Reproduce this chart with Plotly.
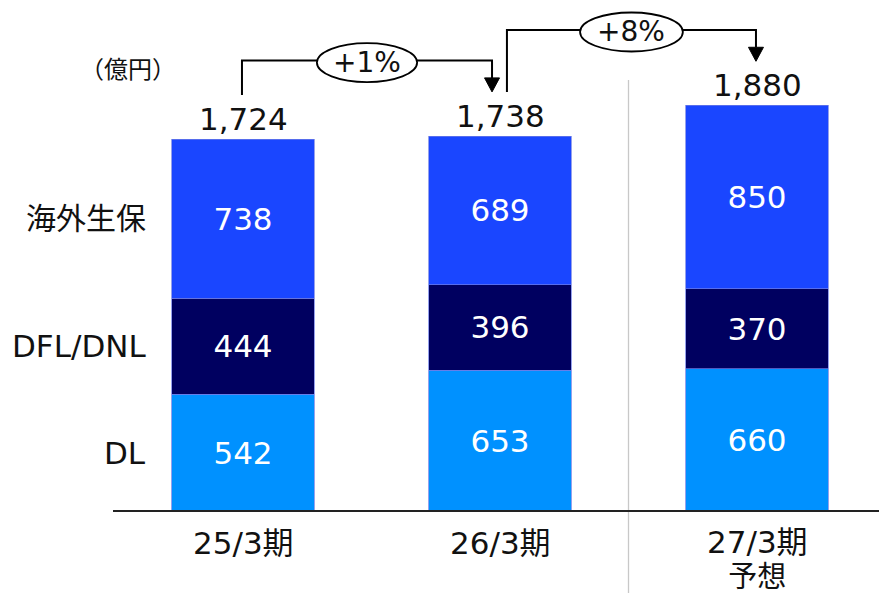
import plotly.graph_objects as go

categories = ["25/3期", "26/3期", "27/3期<br>予想"]
dl = [542, 653, 660]
dfl_dnl = [444, 396, 370]
kaigai = [738, 689, 850]
totals = [1724, 1738, 1880]
growth_labels = ["+1%", "+8%"]
series_names = ["DL", "DFL/DNL", "海外生保"]
colors = ["#0091FF", "#000060", "#1A46FF"]

FONT = "DejaVu Sans, Noto Sans CJK JP"
CJK = "Noto Sans CJK JP"
W, H = 879, 593
x_px_per_unit = 257.0
y_px_per_unit = 0.2157
base_px = 511
x0_px = 243
x_range = [-x0_px / x_px_per_unit, (W - x0_px) / x_px_per_unit]
y_range = [-(H - base_px) / y_px_per_unit, base_px / y_px_per_unit]

fig = go.Figure()
for name, vals, col in zip(series_names, [dl, dfl_dnl, kaigai], colors):
    fig.add_trace(go.Bar(
        x=list(range(len(categories))), y=vals, name=name,
        marker=dict(color=col, line=dict(color="rgba(110,125,230,0.9)", width=0.8)),
        width=0.553,
        text=[str(v) for v in vals], textposition="inside", insidetextanchor="middle",
        textfont=dict(color="white", size=31, family=FONT),
        hoverinfo="skip",
    ))

annotations = []
shapes = []
# totals above bars
for i, t in enumerate(totals):
    annotations.append(dict(x=i, y=t, xref="x", yref="y", text=f"{t:,}", showarrow=False,
                            yanchor="bottom", yshift=0, font=dict(size=31, color="#111", family=FONT)))
# category labels
for i, c in enumerate(categories):
    lines = c.split("<br>")
    if len(lines) == 1:
        annotations.append(dict(x=i, y=0, xref="x", yref="y", text=c, showarrow=False,
                                yanchor="middle", yshift=-32,
                                font=dict(size=31, color="#111", family=FONT)))
    else:
        txt = (f"<span style='font-size:31px'>{lines[0]}</span><br>"
               f"<span style='font-size:29px'>{lines[1]}</span>")
        annotations.append(dict(x=i, y=0, xref="x", yref="y", text=txt, showarrow=False,
                                yanchor="middle", yshift=-48,
                                font=dict(size=26, color="#111", family=FONT)))
# series labels (left), aligned with first bar segments
cum = 0
for name, vals in zip(series_names, [dl, dfl_dnl, kaigai]):
    mid = cum + vals[0] / 2
    cum += vals[0]
    annotations.append(dict(x=(148 - x0_px) / x_px_per_unit, y=mid, xref="x", yref="y", text=name,
                            showarrow=False, xanchor="right",
                            font=dict(size=31 if name.isascii() else 30, color="#111", family=FONT)))
# unit
annotations.append(dict(x=128 / W, y=1 - 68 / H, xref="paper", yref="paper", text="（億円）",
                        xanchor="center", yanchor="middle",
                        showarrow=False, font=dict(size=24, color="#111", family=CJK)))

# growth brackets
off = 205
rise = 350
bracket_x = [(-0.004, 0.969), (1.027, 1.996)]
ell_w = [0.39, 0.40]
for k, (xa, xb) in enumerate(bracket_x):
    a, b = k, k + 1
    ya = totals[a] + off
    yb = totals[b] + off
    ytop = max(totals[a], totals[b]) + rise
    head_h = 14 / y_px_per_unit
    head_w = 7.5 / x_px_per_unit
    shapes.append(dict(type="path", xref="x", yref="y",
                       path=f"M {xa} {ya} L {xa} {ytop} L {xb} {ytop} L {xb} {yb + head_h}",
                       line=dict(color="black", width=2)))
    shapes.append(dict(type="path", xref="x", yref="y",
                       path=f"M {xb - head_w} {yb + head_h} L {xb + head_w} {yb + head_h} L {xb} {yb} Z",
                       fillcolor="black", line=dict(color="black", width=1)))
    xc = (xa + xb) / 2
    ew = ell_w[k] / 2
    eh = 19.5 / y_px_per_unit
    yc = ytop - 2 / y_px_per_unit
    shapes.append(dict(type="circle", xref="x", yref="y",
                       x0=xc - ew, x1=xc + ew, y0=yc - eh, y1=yc + eh,
                       fillcolor="white", line=dict(color="black", width=1.8)))
    annotations.append(dict(x=xc, y=yc, xref="x", yref="y", text=growth_labels[k],
                            showarrow=False, yanchor="middle",
                            font=dict(size=28, color="#111", family=FONT)))

# divider
shapes.append(dict(type="line", xref="x", yref="paper", x0=1.5, x1=1.5, y0=0, y1=1 - 80 / H,
                   line=dict(color="#c8c8c8", width=1.3)))
# baseline
shapes.append(dict(type="line", xref="paper", yref="y", x0=113 / W, x1=1, y0=0, y1=0,
                   line=dict(color="#222", width=2)))

fig.update_layout(
    barmode="stack", width=W, height=H, margin=dict(l=0, r=0, t=0, b=0),
    paper_bgcolor="white", plot_bgcolor="white", showlegend=False,
    xaxis=dict(range=x_range, visible=False, domain=[0, 1]),
    yaxis=dict(range=y_range, visible=False, domain=[0, 1]),
    annotations=annotations, shapes=shapes, uniformtext=dict(mode=False),
    font=dict(family=FONT),
)
fig.write_html("out.html")
